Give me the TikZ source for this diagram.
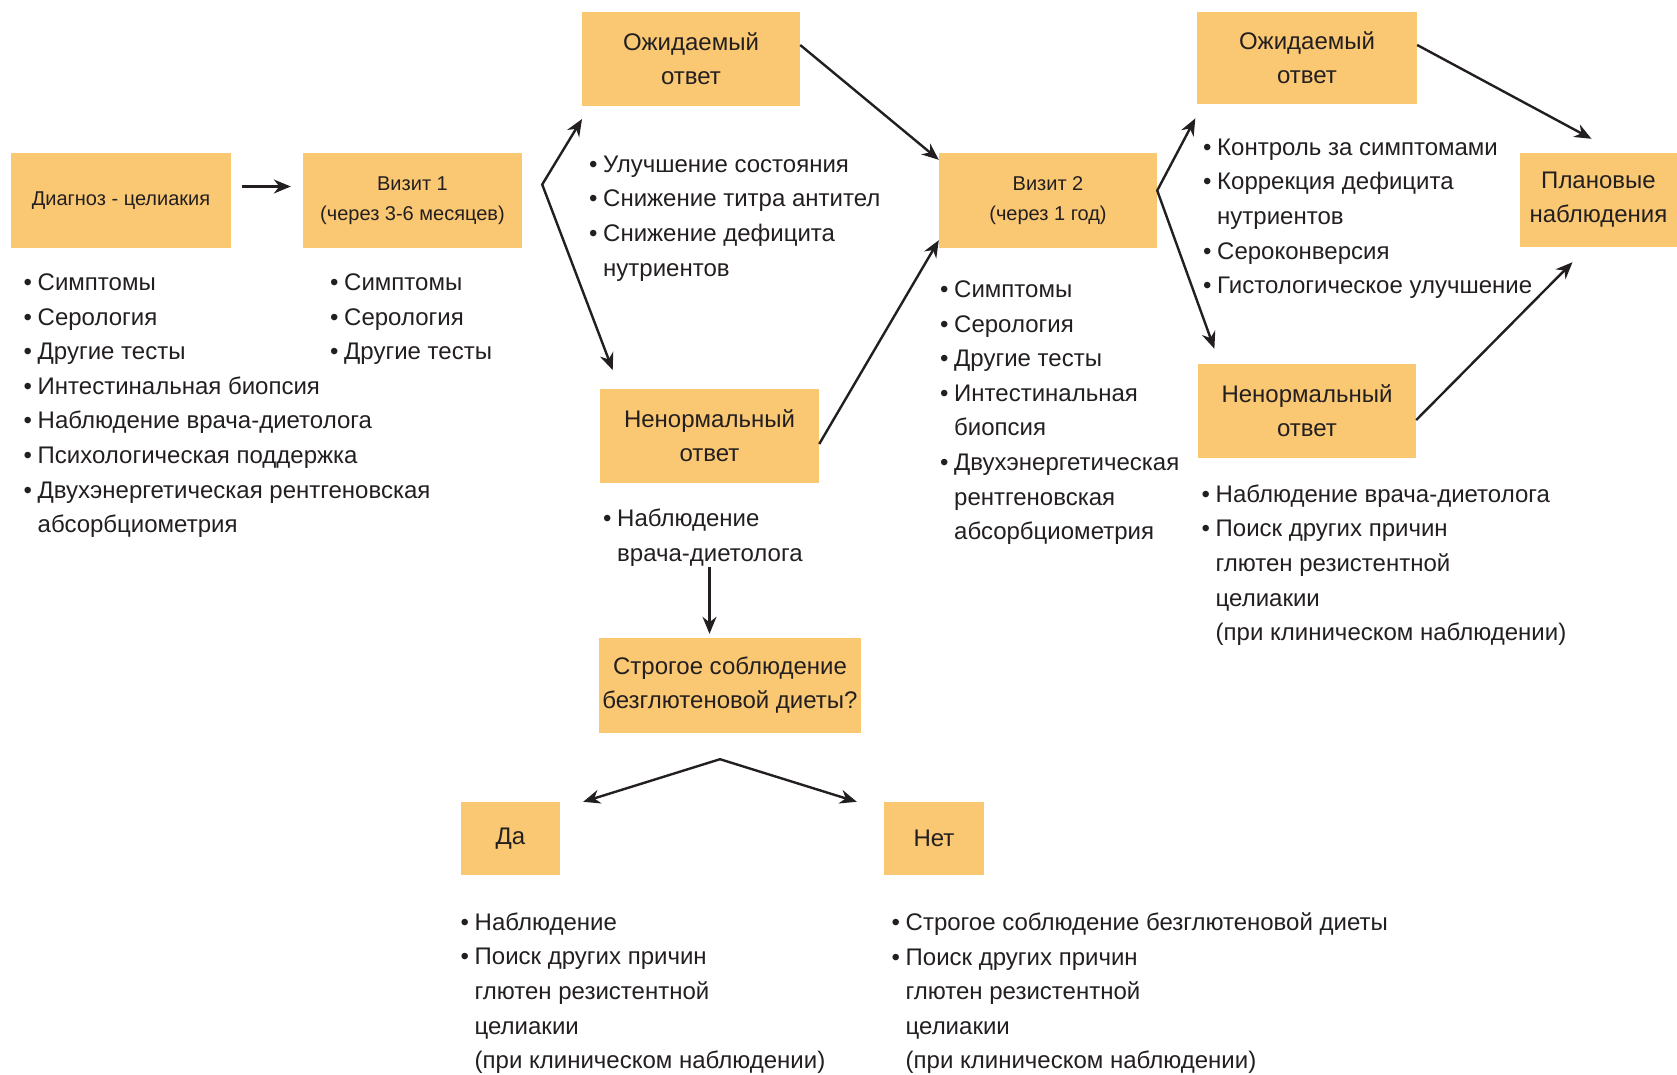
\documentclass[tikz,border=0pt]{standalone}
\usepackage{fontspec}
\setmainfont{Liberation Sans}
\usetikzlibrary{arrows.meta,calc}

\definecolor{boxfill}{RGB}{250,200,114}
\definecolor{ink}{RGB}{35,31,32}

% bullet and hanging indent for the lists
\newcommand{\bul}{\makebox[14pt][l]{•}}
\newcommand{\ind}{\hspace*{14pt}}

\begin{document}
\begin{tikzpicture}[x=1pt,y=-1pt,
    >={Stealth[length=17pt,width=14pt]},
    box/.style={fill=boxfill,inner sep=0pt,align=center,text=ink,
      font=\fontsize{24}{34}\selectfont},
    smallbox/.style={box,font=\fontsize{20}{30}\selectfont},
    list/.style={anchor=north west,inner sep=0pt,align=left,text=ink,
      font=\fontsize{24}{34.6}\selectfont,execute at begin node=\strut},
    arr/.style={draw=ink,line width=2.4pt,->}
  ]
  \useasboundingbox (0,0) rectangle (1677,1074);

  % boxes
  \node[smallbox,minimum width=220pt,minimum height=95pt] (diag) at (121,200.5) {Диагноз - целиакия};
  \node[smallbox,minimum width=219pt,minimum height=95pt] (visit1) at (412.5,200.5) {Визит 1\\(через 3-6 месяцев)};
  \node[box,minimum width=218pt,minimum height=94pt] (expect1) at (691,59) {Ожидаемый\\ответ};
  \node[box,minimum width=219pt,minimum height=94pt] (abnorm1) at (709.5,436) {Ненормальный\\ответ};
  \node[smallbox,minimum width=218pt,minimum height=95pt] (visit2) at (1048,200.5) {Визит 2\\(через 1 год)};
  \node[box,minimum width=220pt,minimum height=92pt] (expect2) at (1307,58) {Ожидаемый\\ответ};
  \node[box,minimum width=218pt,minimum height=94pt] (abnorm2) at (1307,411) {Ненормальный\\ответ};
  \node[box,minimum width=157pt,minimum height=94pt] (planned) at (1598.5,200) {Плановые\\наблюдения};
  \node[box,minimum width=262pt,minimum height=95pt] (gfd) at (730,685.5) {Строгое соблюдение\\безглютеновой диеты?};
  \node[box,minimum width=99pt,minimum height=73pt] (yes) at (510.5,838.5) {Да};
  \node[box,minimum width=100pt,minimum height=73pt] (no) at (934,838.5) {Нет};

  % lists
  \node[list] (diaglist) at (23.5,273.5) {\bul Симптомы\\\bul Серология\\\bul Другие тесты\\
    \bul Интестинальная биопсия\\\bul Наблюдение врача-диетолога\\\bul Психологическая поддержка\\
    \bul Двухэнергетическая рентгеновская\\\ind абсорбциометрия};
  \node[list] (visit1list) at (330,273.5) {\bul Симптомы\\\bul Серология\\\bul Другие тесты};
  \node[list] (expect1list) at (589,155.5) {\bul Улучшение состояния\\\bul Снижение титра антител\\
    \bul Снижение дефицита\\\ind нутриентов};
  \node[list] (abnorm1list) at (603,509) {\bul Наблюдение\\\ind врача-диетолога};
  \node[list] (visit2list) at (940,280.5) {\bul Симптомы\\\bul Серология\\\bul Другие тесты\\
    \bul Интестинальная\\\ind биопсия\\\bul Двухэнергетическая\\\ind рентгеновская\\\ind абсорбциометрия};
  \node[list] (expect2list) at (1203,138.5) {\bul Контроль за симптомами\\\bul Коррекция дефицита\\
    \ind нутриентов\\\bul Сероконверсия\\\bul Гистологическое улучшение};
  \node[list] (abnorm2list) at (1201.5,484.5) {\bul Наблюдение врача-диетолога\\\bul Поиск других причин\\
    \ind глютен резистентной\\\ind целиакии\\\ind (при клиническом наблюдении)};
  \node[list] (yeslist) at (460.5,912.5) {\bul Наблюдение\\\bul Поиск других причин\\
    \ind глютен резистентной\\\ind целиакии\\\ind (при клиническом наблюдении)};
  \node[list] (nolist) at (891.5,912.5) {\bul Строгое соблюдение безглютеновой диеты\\\bul Поиск других причин\\
    \ind глютен резистентной\\\ind целиакии\\\ind (при клиническом наблюдении)};

  % forks
  \coordinate (fork1) at ([xshift=20pt,yshift=16pt]visit1.east);
  \coordinate (fork2) at ([yshift=10pt]visit2.east);
  \coordinate (fork3) at ([xshift=-10pt,yshift=-26pt]gfd.south);

  % connectors
  \draw[arr,shorten <=11pt,shorten >=12pt] ([yshift=14pt]diag.east) -- ([yshift=14pt]visit1.west);
  \draw[arr,<->,shorten <=15pt,shorten >=20pt] ([xshift=8pt]expect1.south west) -- (fork1) -- ([xshift=20pt]abnorm1.north west);
  \draw[arr] ([yshift=14pt]expect1.east) -- ([yshift=-7pt]visit2.north west);
  \draw[arr] ([yshift=-8pt]abnorm1.east) -- ([yshift=8pt]visit2.south west);
  \draw[arr,<->,shorten <=16pt,shorten >=16pt] ([xshift=6pt]expect2.south west) -- (fork2) -- ([xshift=22pt]abnorm2.north west);
  \draw[arr] ([yshift=13pt]expect2.east) -- ([xshift=-7pt,yshift=14pt]planned.north);
  \draw[arr] ([yshift=-9pt]abnorm2.east) -- ([xshift=-26pt,yshift=-15pt]planned.south);
  \draw[arr,shorten <=84pt,shorten >=4pt] (abnorm1.south) -- (abnorm1.south |- gfd.north);
  \draw[arr,<->] ([xshift=23pt]yes.north east) -- (fork3) -- ([xshift=-27pt]no.north west);
\end{tikzpicture}
\end{document}
